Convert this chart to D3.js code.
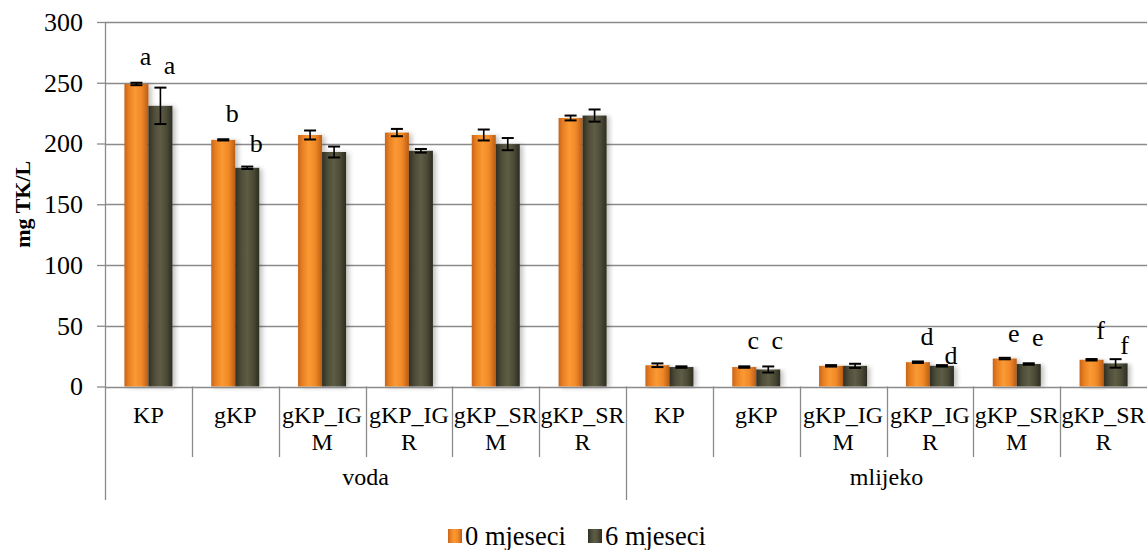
<!DOCTYPE html>
<html>
<head>
<meta charset="utf-8">
<script src="https://cdn.jsdelivr.net/npm/d3@7"></script>
<style>
  html, body { margin: 0; padding: 0; background: #fff; }
  svg { display: block; }
  svg text { font-family: 'Liberation Serif', 'Times New Roman', Times, 'Nimbus Roman', 'DejaVu Serif', serif !important; fill: #000; }
</style>
</head>
<body>
<svg id="chart" width="1147" height="550"></svg>
<script>
// ---- data ----
const groups = ["voda", "mlijeko"];
const categories = ["KP", "gKP", "gKP_IGM", "gKP_IGR", "gKP_SRM", "gKP_SRR"];
const categoryLines = [["KP"], ["gKP"], ["gKP_IG", "M"], ["gKP_IG", "R"], ["gKP_SR", "M"], ["gKP_SR", "R"]];
const seriesNames = ["0 mjeseci", "6 mjeseci"];

const voda0 = [249, 203, 207, 209, 207, 221];
const voda0Err = [1, 0.5, 3.7, 3, 4.5, 2];
const voda6 = [231, 180, 193, 194, 199.5, 223];
const voda6Err = [15, 1, 4.5, 1.5, 5, 5];
const mlijeko0 = [17.5, 16, 17, 20, 23, 22];
const mlijeko0Err = [1.5, 0.6, 0.6, 0.6, 0.6, 0.6];
const mlijeko6 = [16, 14, 17, 17, 18.5, 19];
const mlijeko6Err = [0.6, 2.5, 1.7, 0.6, 0.6, 3.5];

const yTicks = [0, 50, 100, 150, 200, 250, 300];
const yTitle = "mg TK/L";

// significance letters: text, group, category, series, value at baseline
const letterText = ["a", "a", "b", "b", "c", "c", "d", "d", "e", "e", "f", "f"];
const letterGroup = ["voda", "voda", "voda", "voda", "mlijeko", "mlijeko", "mlijeko", "mlijeko", "mlijeko", "mlijeko", "mlijeko", "mlijeko"];
const letterCat = ["KP", "KP", "gKP", "gKP", "gKP", "gKP", "gKP_IGR", "gKP_IGR", "gKP_SRM", "gKP_SRM", "gKP_SRR", "gKP_SRR"];
const letterSeries = [0, 1, 0, 1, 0, 1, 0, 1, 0, 1, 0, 1];
const letterAt = [265, 257, 218, 193, 31, 31, 34, 18.5, 37, 33, 39, 27];

// ---- build rows ----
const rows = [];
const seriesData = { voda: [[voda0, voda0Err], [voda6, voda6Err]], mlijeko: [[mlijeko0, mlijeko0Err], [mlijeko6, mlijeko6Err]] };
groups.forEach(g => categories.forEach((c, i) => {
  rows.push({ key: g + "|" + c, group: g, cat: c, idx: i,
    vals: seriesData[g].map(([v, e]) => ({ v: v[i], e: e[i] })) });
}));

// ---- layout ----
const FONT = "'Liberation Serif', 'Times New Roman', Times, 'Nimbus Roman', 'DejaVu Serif', serif";
const svg = d3.select("#chart").attr("font-family", FONT);
const plotL = 105, plotR = 1147, plotT = 22, plotB = 386.5;
const barW = 24;

const x0 = d3.scaleBand().domain(rows.map(r => r.key)).range([plotL, plotR]).padding(0);
const bw = x0.bandwidth();
const x1 = d3.scaleBand().domain([0, 1]).range([bw / 2 - barW, bw / 2 + barW]).padding(0);
const y = d3.scaleLinear().domain([0, 300]).range([plotB, plotT]);

// defs: gradients + shadow
const defs = svg.append("defs");
const gradDefs = [
  { id: "gOrange", stops: [["0%", "#c66419"], ["18%", "#e97f22"], ["45%", "#fa9a33"], ["72%", "#f18827"], ["100%", "#b85d17"]] },
  { id: "gDark", stops: [["0%", "#2f2f24"], ["25%", "#4f4e39"], ["50%", "#5e5d45"], ["75%", "#4c4b37"], ["100%", "#2c2c22"]] }
];
gradDefs.forEach(gd => {
  const lg = defs.append("linearGradient").attr("id", gd.id).attr("x1", "0%").attr("x2", "100%").attr("y1", "0%").attr("y2", "0%");
  gd.stops.forEach(([o, c]) => lg.append("stop").attr("offset", o).attr("stop-color", c));
});
const f = defs.append("filter").attr("id", "shadow").attr("x", "-30%").attr("y", "-10%").attr("width", "160%").attr("height", "120%");
f.append("feGaussianBlur").attr("in", "SourceAlpha").attr("stdDeviation", 2.5).attr("result", "blur");
f.append("feOffset").attr("in", "blur").attr("dx", 3).attr("dy", 1).attr("result", "off");
f.append("feComponentTransfer").attr("in", "off").attr("result", "sh").append("feFuncA").attr("type", "linear").attr("slope", 0.25);
const fm = f.append("feMerge");
fm.append("feMergeNode").attr("in", "sh");
fm.append("feMergeNode").attr("in", "SourceGraphic");
const fills = ["url(#gOrange)", "url(#gDark)"];

// gridlines
svg.append("g").selectAll("line").data(yTicks.filter(t => t > 0)).join("line")
  .attr("x1", plotL).attr("x2", plotR)
  .attr("y1", d => Math.round(y(d)) + 0.5).attr("y2", d => Math.round(y(d)) + 0.5)
  .attr("stroke", "#8a8a8a").attr("stroke-width", 1.3);

// y axis
const yAxis = d3.axisLeft(y).tickValues(yTicks).tickSize(8).tickPadding(14).tickFormat(d3.format("d"));
const ya = svg.append("g").attr("transform", `translate(${plotL},0)`).call(yAxis);
ya.attr("font-family", FONT).attr("font-size", 26);
ya.select(".domain").remove();
ya.selectAll(".tick line").attr("stroke", "#8a8a8a").attr("stroke-width", 1.3);
ya.selectAll(".tick text").style("font-size", "26px").attr("fill", "#000");
svg.append("line").attr("x1", plotL + 0.5).attr("x2", plotL + 0.5).attr("y1", plotT).attr("y2", 500)
  .attr("stroke", "#8a8a8a").attr("stroke-width", 1.3);

// y title
svg.append("text").attr("transform", `translate(30,${(plotT + plotB) / 2}) rotate(-90)`)
  .attr("text-anchor", "middle").style("font-size", "22px").style("font-weight", "bold").text(yTitle);

// bars
const barG = svg.append("g");
const cg = barG.selectAll("g").data(rows).join("g").attr("transform", d => `translate(${x0(d.key)},0)`);
cg.selectAll("rect").data(d => d.vals).join("rect")
  .attr("x", (d, i) => x1(i)).attr("width", x1.bandwidth())
  .attr("y", d => y(d.v)).attr("height", d => y(0) - y(d.v))
  .attr("fill", (d, i) => fills[i]).attr("filter", "url(#shadow)");

// baseline
svg.append("line").attr("x1", plotL).attr("x2", plotR).attr("y1", Math.round(y(0)) + 0.5).attr("y2", Math.round(y(0)) + 0.5)
  .attr("stroke", "#8a8a8a").attr("stroke-width", 1.3);

// error bars
const capW = 6;
const eg = cg.selectAll("g.err").data(d => d.vals).join("g").attr("class", "err")
  .attr("transform", (d, i) => `translate(${x1(i) + x1.bandwidth() / 2},0)`);
eg.append("line").attr("x1", 0).attr("x2", 0).attr("y1", d => y(d.v + d.e)).attr("y2", d => y(d.v - d.e))
  .attr("stroke", "#000").attr("stroke-width", 1.6);
eg.append("line").attr("x1", -capW).attr("x2", capW).attr("y1", d => y(d.v + d.e)).attr("y2", d => y(d.v + d.e))
  .attr("stroke", "#000").attr("stroke-width", 2);
eg.append("line").attr("x1", -capW).attr("x2", capW).attr("y1", d => y(d.v - d.e)).attr("y2", d => y(d.v - d.e))
  .attr("stroke", "#000").attr("stroke-width", 2);

// letters
svg.append("g").selectAll("text").data(letterText.map((t, i) => i)).join("text")
  .attr("x", i => x0(letterGroup[i] + "|" + letterCat[i]) + x1(letterSeries[i]) + x1.bandwidth() / 2 + 9)
  .attr("y", i => y(letterAt[i]))
  .attr("text-anchor", "middle").style("font-size", "26px").text(i => letterText[i]);

// category separators & labels
const sepG = svg.append("g");
rows.forEach((r, k) => {
  if (k > 0) {
    const isGroup = r.idx === 0;
    sepG.append("line").attr("x1", Math.round(x0(r.key)) + 0.5).attr("x2", Math.round(x0(r.key)) + 0.5)
      .attr("y1", plotB).attr("y2", isGroup ? 500 : 457)
      .attr("stroke", "#8a8a8a").attr("stroke-width", 1.3);
  }
  const t = sepG.append("text").attr("text-anchor", "middle").style("font-size", "24px")
    .attr("x", x0(r.key) + bw / 2).attr("y", 423);
  categoryLines[r.idx].forEach((ln, j) => t.append("tspan").attr("x", x0(r.key) + bw / 2).attr("dy", j === 0 ? 0 : 27).text(ln));
});
// group labels
groups.forEach(g => {
  const a = x0(g + "|" + categories[0]), b = x0(g + "|" + categories[categories.length - 1]) + bw;
  sepG.append("text").attr("x", (a + b) / 2).attr("y", 485).attr("text-anchor", "middle").style("font-size", "24px").text(g);
});

// legend
const legendX = [448, 588];
const lg = svg.append("g");
seriesNames.forEach((s, i) => {
  lg.append("rect").attr("x", legendX[i]).attr("y", 529).attr("width", 14).attr("height", 14).attr("fill", fills[i]);
  lg.append("text").attr("x", legendX[i] + 17).attr("y", 545).style("font-size", "26.5px").text(s);
});
</script>
</body>
</html>
